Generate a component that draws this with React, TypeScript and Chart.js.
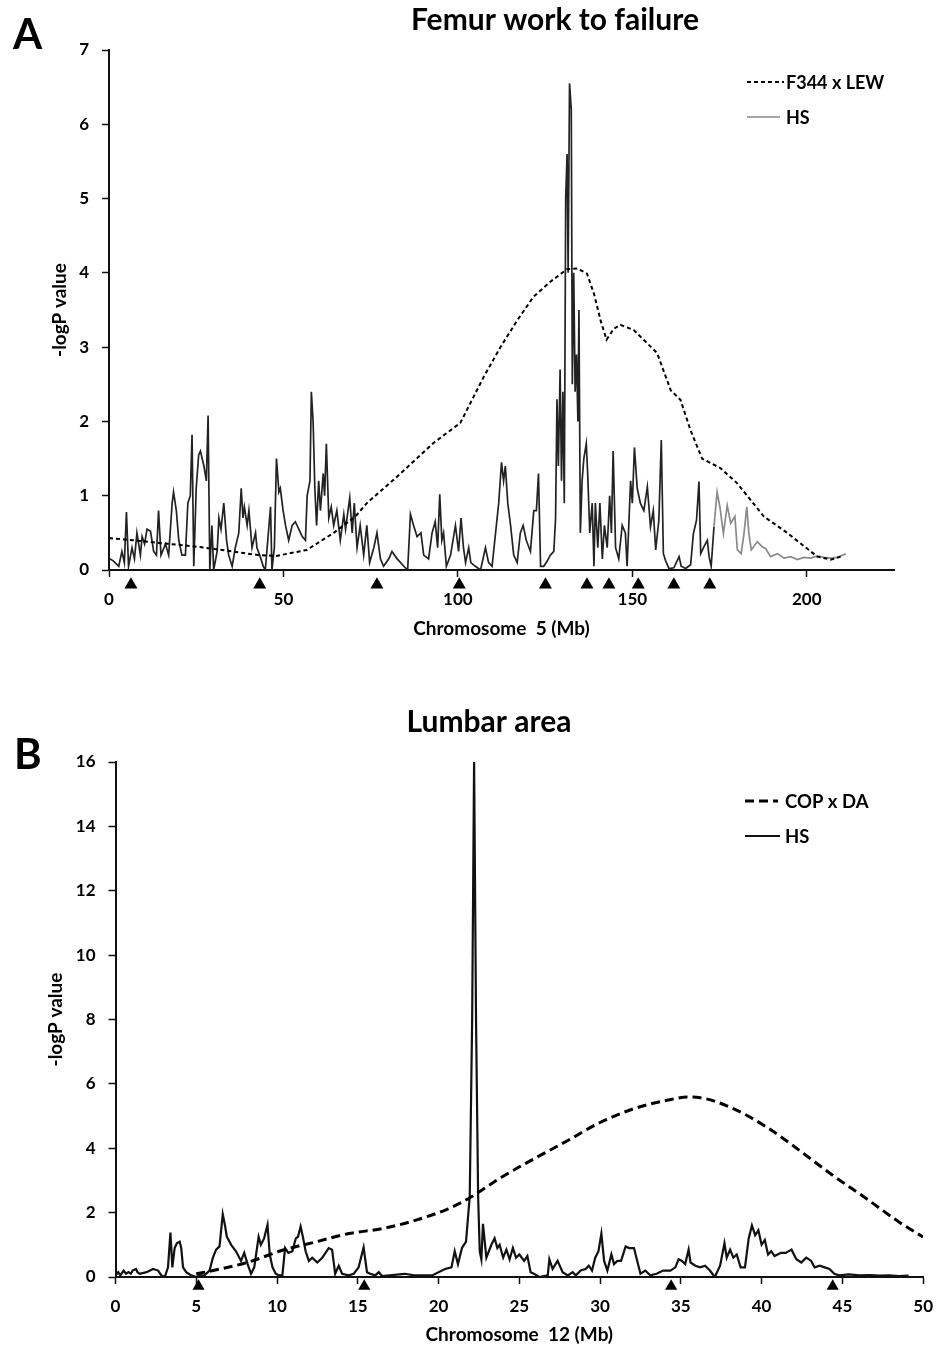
import React, { useEffect, useRef } from 'react';
import { Chart, registerables } from 'chart.js';

Chart.register(...registerables);

const FONT = "Lato, 'Open Sans', sans-serif";

// ---------- Panel A: Femur work to failure (Chromosome 5) ----------
const femurHsMb = [
  0.0, 1.3, 2.8, 3.7, 4.4, 5.0, 5.6, 6.6, 7.3, 8.0, 9.0, 9.5, 10.2, 10.9, 11.9, 12.8, 13.6, 14.2, 14.9, 16.2,
  17.1, 18.1, 18.5, 19.3, 20.0, 20.9, 21.9, 22.6, 23.3, 23.8, 24.3, 25.0, 25.7, 26.2, 27.2, 27.9, 28.4, 28.9, 29.5, 30.0,
  31.0, 31.5, 32.1, 32.9, 33.7, 34.3, 35.3, 36.2, 37.2, 37.9, 38.4, 38.8, 39.6, 40.1, 41.0, 42.0, 42.4, 43.2, 44.2, 44.8,
  46.3, 46.7, 47.4, 48.0, 48.7, 49.1, 49.9, 50.6, 51.5, 52.5, 53.4, 54.4, 55.4, 56.3, 56.8, 57.6, 58.0, 58.5, 59.0, 59.5,
  60.1, 60.6, 61.4, 61.8, 62.3, 63.0, 63.7, 64.4, 65.3, 66.3, 67.3, 67.8, 69.0, 69.7, 70.3, 71.1, 72.0, 73.0, 73.9, 74.7,
  75.9, 76.8, 77.8, 78.7, 80.2, 81.1, 82.6, 84.5, 85.6, 86.4, 87.3, 88.3, 89.4, 90.2, 91.6, 92.6, 93.5, 94.2, 94.8, 95.4,
  95.9, 96.7, 97.9, 99.3, 100.2, 100.9, 101.6, 102.2, 103.1, 103.7, 105.0, 106.5, 107.9, 108.8, 109.8, 110.8, 111.7, 112.5, 113.1, 113.6,
  114.3, 115.1, 116.0, 117.0, 117.9, 118.7, 119.6, 120.8, 121.75, 122.5, 123.1, 123.7, 124.6, 125.6, 126.5, 127.5, 128.0, 128.4, 128.8, 129.3,
  129.7, 130.1, 130.5, 130.9, 131.3, 131.6, 132.0, 132.5, 132.8, 133.2, 133.6, 134.0, 134.4, 134.7, 135.1, 135.6, 136.1, 136.8, 137.2, 137.8,
  138.5, 139.0, 139.4, 140.1, 140.7, 141.4, 142.0, 142.8, 143.5, 144.0, 144.5, 145.2, 146.1, 147.1, 148.0, 148.5, 149.5, 150.0, 150.6, 151.4,
  152.3, 153.3, 154.3, 155.2, 156.0, 156.7, 157.6, 158.3, 158.9, 159.5, 160.5, 161.9, 163.4, 164.0, 165.3, 166.7, 167.5, 168.4, 169.1, 169.6,
  170.5, 171.5, 172.0, 172.6, 173.4, 174.3, 175.1, 176.1, 177.2, 178.2, 179.4, 180.1, 181.2, 182.0, 182.8, 183.4, 184.1, 185.8, 187.3, 188.2,
  189.6, 191.6, 193.5, 195.4, 197.3, 199.2, 201.1, 203.0, 204.9, 206.9, 208.8, 211.2,
];
const femurHsLogP = [
  0.16, 0.12, 0.05, 0.25, 0.1, 0.78, 0.05, 0.3, 0.15, 0.5, 0.2, 0.45, 0.35, 0.55, 0.52, 0.25, 0.2, 0.8, 0.2, 0.35,
  0.2, 0.9, 1.05, 0.8, 0.4, 0.2, 0.2, 0.9, 1.0, 1.82, 0.05, 1.1, 1.55, 1.6, 1.4, 1.2, 2.08, 0.0, 0.6, 0.0,
  0.25, 0.7, 0.55, 0.9, 0.4, 0.2, 0.05, 0.3, 0.5, 1.1, 0.7, 0.85, 0.6, 0.8, 0.3, 0.5, 0.3, 0.2, 0.05, 0.0,
  0.85, 0.0, 0.3, 1.5, 1.05, 1.1, 0.8, 0.6, 0.4, 0.6, 0.65, 0.55, 0.45, 0.4, 1.0, 1.2, 2.4, 2.0, 1.1, 0.6,
  1.2, 0.8, 1.3, 1.0, 1.7, 0.7, 0.85, 0.6, 0.8, 0.4, 0.75, 0.55, 0.97, 0.5, 0.9, 0.3, 0.6, 0.2, 0.6, 0.1,
  0.3, 0.5, 0.15, 0.05, 0.15, 0.25, 0.15, 0.05, 0.0, 0.75, 0.6, 0.45, 0.5, 0.2, 0.15, 0.5, 0.65, 0.3, 1.02, 0.4,
  0.5, 0.05, 0.2, 0.6, 0.25, 0.7, 0.3, 0.1, 0.3, 0.1, 0.05, 0.0, 0.3, 0.1, 0.05, 0.5, 0.9, 1.45, 1.2, 1.4,
  0.9, 0.6, 0.2, 0.1, 0.5, 0.6, 0.4, 0.25, 0.8, 0.8, 1.3, 0.05, 0.05, 0.12, 0.2, 0.25, 0.7, 2.3, 1.4, 2.7,
  1.2, 2.4, 0.9, 5.0, 5.6, 4.0, 6.55, 6.2, 2.5, 4.0, 2.4, 2.9, 2.0, 3.5, 0.5, 1.2, 1.5, 1.7, 1.3, 0.5,
  0.9, 0.05, 0.9, 0.3, 0.9, 0.15, 0.6, 0.3, 1.0, 0.5, 1.6, 0.3, 0.15, 0.6, 0.5, 0.05, 1.2, 0.9, 1.65, 1.1,
  0.9, 0.8, 1.12, 0.58, 0.8, 0.27, 0.67, 1.75, 0.22, 0.13, 0.02, 0.03, 0.18, 0.05, 0.02, 0.07, 0.49, 0.67, 1.19, 0.22,
  0.31, 0.4, 0.18, 0.05, 0.58, 1.05, 0.85, 0.49, 0.87, 0.63, 0.72, 0.27, 0.22, 0.49, 0.85, 0.49, 0.27, 0.38, 0.31, 0.29,
  0.18, 0.22, 0.16, 0.18, 0.14, 0.17, 0.16, 0.19, 0.17, 0.16, 0.17, 0.22,
];
const femurF344Mb = [
  0, 7, 26, 43, 48, 56.7, 64.4, 70.6, 73.9, 83.6, 93, 100.7, 107.4, 112.2, 117, 121.7, 126.5, 131.3, 134.2, 137,
  139, 140.9, 142.6, 144.7, 146.6, 150.4, 154.3, 157.1, 161, 163.8, 166.7, 170, 175.3, 180, 187.7, 194.4, 203, 206.9, 209.7,
];
const femurF344LogP = [
  0.43, 0.4, 0.31, 0.2, 0.19, 0.27, 0.5, 0.72, 0.9, 1.3, 1.71, 1.98, 2.6, 3.0, 3.36, 3.68, 3.88, 4.05, 4.06, 3.99,
  3.72, 3.36, 3.1, 3.25, 3.3, 3.23, 3.05, 2.92, 2.42, 2.29, 1.88, 1.5, 1.37, 1.17, 0.72, 0.5, 0.18, 0.14, 0.18,
];
const femurMarkerMb = [6.3, 43.2, 76.8, 100.4, 125.1, 137.0, 143.3, 151.7, 161.9, 172.2];

// ---------- Panel B: Lumbar area (Chromosome 12) ----------
const lumbarHsMb = [
  0.0, 0.17, 0.3, 0.5, 0.65, 0.8, 0.95, 1.06, 1.27, 1.36, 1.5, 1.92, 2.33, 2.64, 2.84, 3.05, 3.25, 3.4, 3.52, 3.66,
  3.8, 3.97, 4.07, 4.18, 4.38, 4.69, 5.0, 5.2, 5.5, 5.82, 6.03, 6.23, 6.44, 6.64, 6.78, 6.89, 7.16, 7.46, 7.77, 7.97,
  8.18, 8.39, 8.59, 8.86, 9.0, 9.2, 9.41, 9.55, 9.72, 9.92, 10.13, 10.33, 10.5, 10.7, 10.95, 11.16, 11.3, 11.46, 11.6, 11.77,
  11.97, 12.18, 12.49, 12.8, 13.0, 13.2, 13.41, 13.6, 13.82, 14.03, 14.44, 14.75, 15.05, 15.36, 15.57, 15.77, 16.08, 16.3, 16.5, 17.9,
  18.5, 19.6, 20.4, 20.8, 21.0, 21.2, 21.45, 21.7, 21.93, 22.08, 22.2, 22.32, 22.45, 22.55, 22.65, 22.75, 22.96, 23.27, 23.47, 23.64,
  23.78, 24.0, 24.2, 24.4, 24.6, 24.8, 25.0, 25.3, 25.5, 25.7, 25.9, 26.24, 26.76, 26.86, 27.06, 27.37, 27.68, 28.0, 28.3, 28.5,
  28.8, 29.1, 29.3, 29.5, 29.7, 29.9, 30.08, 30.25, 30.45, 30.7, 30.86, 31.07, 31.3, 31.58, 31.8, 32.1, 32.3, 32.5, 32.8, 33.1,
  33.5, 33.9, 34.35, 34.66, 34.86, 35.07, 35.27, 35.48, 35.6, 35.9, 36.2, 36.5, 36.8, 37.1, 37.43, 37.7, 37.84, 38.05, 38.25, 38.46,
  38.7, 38.97, 39.2, 39.4, 39.6, 39.8, 40.0, 40.2, 40.4, 40.6, 40.8, 41.2, 41.5, 41.85, 42.15, 42.46, 42.76, 43.07, 43.28, 43.6,
  43.9, 44.2, 44.5, 44.8, 45.4, 46.05, 46.7, 47.3, 47.9, 48.5, 49.1,
];
const lumbarHsLogP = [
  0.05, 0.15, 0.05, 0.2, 0.1, 0.15, 0.1, 0.2, 0.25, 0.15, 0.1, 0.15, 0.25, 0.2, 0.05, 0.0, 0.3, 1.38, 0.3, 0.9,
  1.05, 1.1, 0.9, 0.3, 0.15, 0.05, 0.0, 0.05, 0.05, 0.2, 0.6, 0.85, 0.95, 1.95, 1.6, 1.25, 1.0, 0.8, 0.5, 0.75,
  0.4, 0.1, 0.3, 1.25, 1.0, 1.2, 1.62, 0.7, 0.3, 0.1, 0.05, 0.05, 0.9, 0.75, 0.8, 1.2, 1.25, 1.57, 1.25, 0.8,
  0.5, 0.6, 0.45, 0.6, 0.75, 0.9, 0.85, 0.1, 0.35, 0.1, 0.05, 0.1, 0.3, 0.92, 0.15, 0.1, 0.05, 0.15, 0.03, 0.1,
  0.05, 0.05, 0.25, 0.3, 0.8, 0.4, 0.9, 1.1, 2.5, 8.0, 16.0, 8.0, 2.5, 0.8, 0.55, 1.65, 0.6, 1.0, 1.2, 0.9,
  1.0, 0.6, 0.85, 0.55, 0.9, 0.6, 0.7, 0.5, 0.65, 0.15, 0.1, 0.0, 0.05, 0.55, 0.25, 0.5, 0.15, 0.05, 0.15, 0.05,
  0.2, 0.25, 0.35, 0.2, 0.6, 0.8, 1.35, 0.5, 0.2, 0.7, 0.4, 0.5, 0.5, 0.95, 0.9, 0.9, 0.5, 0.1, 0.2, 0.05,
  0.1, 0.2, 0.2, 0.3, 0.55, 0.5, 0.4, 0.85, 0.45, 0.35, 0.3, 0.35, 0.2, 0.0, 0.35, 1.05, 0.6, 0.85, 0.6, 0.7,
  0.3, 0.3, 1.2, 1.6, 1.3, 1.45, 1.0, 1.15, 0.7, 0.8, 0.65, 0.75, 0.75, 0.85, 0.55, 0.45, 0.6, 0.5, 0.3, 0.35,
  0.3, 0.25, 0.1, 0.05, 0.08, 0.05, 0.06, 0.04, 0.05, 0.03, 0.04,
];
const lumbarCopMb = [
  5.0, 6.03, 8.28, 10.33, 12.4, 14.44, 16.5, 18.55, 20.6, 21.83, 23.9, 25.9, 28.0, 30.0, 32.1, 34.15, 35.4, 36.2, 38.25, 40.3,
  42.35, 44.4, 46.5, 48.5, 50.0,
];
const lumbarCopLogP = [
  0.1, 0.2, 0.47, 0.83, 1.09, 1.35, 1.5, 1.76, 2.12, 2.43, 3.1, 3.67, 4.24, 4.8, 5.23, 5.49, 5.59, 5.57, 5.23, 4.66,
  3.93, 3.16, 2.43, 1.71, 1.24,
];
const lumbarMarkerMb = [5.14, 15.4, 34.4, 44.4];

const MARKER_LOGP_A = -0.2;
const MARKER_LOGP_B = -0.29;

const pts = (xs: number[], ys: number[]) => xs.map((x, i) => ({ x, y: ys[i] }));

const panelDecor = {
  id: 'panelDecor',
  afterDraw(chart: any, _args: any, o: any) {
    const { ctx } = chart;
    ctx.save();
    ctx.fillStyle = '#000';
    ctx.textAlign = 'left';
    ctx.textBaseline = 'alphabetic';
    ctx.font = `bold ${o.letterSize}px ${FONT}`;
    ctx.fillText(o.letter, o.letterX, o.letterY);
    ctx.textAlign = 'center';
    ctx.font = `bold ${o.titleSize}px ${FONT}`;
    ctx.fillText(o.title, o.titleX, o.titleY);
    ctx.textAlign = 'left';
    ctx.textBaseline = 'middle';
    ctx.font = `bold ${o.legendSize}px ${FONT}`;
    o.legend.forEach((item: any, i: number) => {
      const ds = chart.data.datasets[item.index];
      const y = o.legendY + i * o.legendGap;
      ctx.beginPath();
      ctx.setLineDash(ds.borderDash || []);
      ctx.strokeStyle = item.color || ds.borderColor;
      ctx.lineWidth = ds.borderWidth;
      ctx.moveTo(o.legendX, y);
      ctx.lineTo(o.legendX + item.sample, y);
      ctx.stroke();
      ctx.setLineDash([]);
      ctx.fillText(ds.label, o.legendTextX, y + 1);
    });
    ctx.restore();
  },
};

const tickFont = { family: FONT, size: 17, weight: 'bold' as const };
const axisTitleFont = { family: FONT, size: 19, weight: 'bold' as const };

function axisCommon() {
  return {
    grid: { display: true, drawOnChartArea: false, drawTicks: true, tickLength: 7, tickWidth: 1.5, tickColor: '#111' },
    border: { display: true, color: '#111', width: 2 },
  };
}

function makeConfig(p: any) {
  return {
    type: 'line',
    data: {
      datasets: [
        {
          label: p.dashLabel,
          data: pts(p.dashX, p.dashY),
          borderColor: '#000',
          borderWidth: p.dashWidth,
          borderDash: p.dash,
          pointRadius: 0,
          tension: 0,
          cubicInterpolationMode: p.monotone ? 'monotone' : 'default',
          fill: false,
          order: 0,
        },
        {
          label: 'HS',
          data: pts(p.hsX, p.hsY),
          borderColor: p.hsColor,
          borderWidth: p.hsWidth,
          pointRadius: 0,
          tension: 0,
          fill: false,
          order: 1,
          segment: p.hsSegment,
        },
        {
          label: 'markers',
          data: p.markerX.map((x: number) => ({ x, y: p.markerY })),
          showLine: false,
          pointStyle: 'triangle',
          pointRadius: p.markerR,
          // a larger hover radius widens the in-area margin so the markers below the axis are drawn
          pointHoverRadius: 17,
          pointBackgroundColor: '#000',
          pointBorderColor: '#000',
          pointBorderWidth: 0,
          clip: false,
          order: 2,
        },
      ],
    },
    options: {
      animation: false,
      responsive: false,
      events: [],
      layout: { padding: p.padding },
      plugins: {
        legend: { display: false },
        tooltip: { enabled: false },
        title: { display: false },
        panelDecor: p.decor,
      },
      scales: {
        x: {
          type: 'linear',
          min: 0,
          max: p.xMax,
          ...axisCommon(),
          ticks: { stepSize: p.xStep, includeBounds: false, font: tickFont, color: '#000', padding: p.xTickPad, maxRotation: 0, autoSkip: false },
          title: { display: true, text: p.xTitle, font: axisTitleFont, color: '#000', padding: { top: 0, bottom: p.xTitlePad } },
          afterFit: (s: any) => { s.height = p.xAxisHeight; },
        },
        y: {
          type: 'linear',
          min: 0,
          max: p.yMax,
          ...axisCommon(),
          ticks: { stepSize: p.yStep, font: tickFont, color: '#000', padding: 13, autoSkip: false },
          title: { display: true, text: '-logP value', font: axisTitleFont, color: '#000', padding: { top: p.yTitlePad, bottom: 0 } },
          afterFit: (s: any) => { s.width = p.yAxisWidth; },
        },
      },
    },
    plugins: [panelDecor],
  };
}

const panelA = {
  dashLabel: 'F344 x LEW',
  dashX: femurF344Mb,
  dashY: femurF344LogP,
  dashWidth: 2,
  dash: [4, 3],
  monotone: false,
  hsX: femurHsMb,
  hsY: femurHsLogP,
  hsColor: '#8a8a8a',
  hsWidth: 1.7,
  hsSegment: { borderColor: (c: any) => (c.p0.parsed.x < 173 ? '#222' : '#8a8a8a') },
  markerX: femurMarkerMb,
  markerY: MARKER_LOGP_A,
  markerR: 7.5,
  xMax: 225,
  xStep: 50,
  yMax: 7,
  yStep: 1,
  xTitle: 'Chromosome  5 (Mb)',
  padding: { top: 50, right: 51, bottom: 0, left: 0 },
  xAxisHeight: 80,
  yAxisWidth: 109,
  xTickPad: 12,
  xTitlePad: 9.6,
  yTitlePad: 48.6,
  decor: {
    letter: 'A', letterX: 13, letterY: 49, letterSize: 42,
    title: 'Femur work to failure', titleX: 555, titleY: 30, titleSize: 30,
    legendX: 747, legendTextX: 786, legendY: 82, legendGap: 35, legendSize: 18,
    legend: [{ index: 0, sample: 37 }, { index: 1, sample: 33, color: '#8a8a8a' }],
  },
};

const panelB = {
  dashLabel: 'COP x DA',
  dashX: lumbarCopMb,
  dashY: lumbarCopLogP,
  dashWidth: 3,
  dash: [9, 5],
  monotone: true,
  hsX: lumbarHsMb,
  hsY: lumbarHsLogP,
  hsColor: '#111',
  hsWidth: 2.2,
  hsSegment: undefined,
  markerX: lumbarMarkerMb,
  markerY: MARKER_LOGP_B,
  markerR: 7,
  xMax: 50,
  xStep: 5,
  yMax: 16,
  yStep: 2,
  xTitle: 'Chromosome  12 (Mb)',
  padding: { top: 82, right: 18, bottom: 0, left: 0 },
  xAxisHeight: 72,
  yAxisWidth: 115.5,
  xTickPad: 12,
  xTitlePad: 2.6,
  yTitlePad: 44.6,
  decor: {
    letter: 'B', letterX: 14, letterY: 89, letterSize: 42,
    title: 'Lumbar area', titleX: 489, titleY: 52, titleSize: 30,
    legendX: 745, legendTextX: 785, legendY: 121, legendGap: 35, legendSize: 18.5,
    legend: [{ index: 0, sample: 33 }, { index: 1, sample: 35 }],
  },
};

function Panel({ cfg, top, height }: { cfg: any; top: number; height: number }) {
  const ref = useRef<HTMLCanvasElement | null>(null);
  useEffect(() => {
    if (!ref.current) return;
    const chart = new Chart(ref.current, makeConfig(cfg) as any);
    return () => chart.destroy();
  }, [cfg]);
  return (
    <canvas
      ref={ref}
      width={945}
      height={height}
      style={{ position: 'absolute', left: 0, top, width: 945, height }}
    />
  );
}

export default function App() {
  return (
    <div style={{ position: 'absolute', left: 0, top: 0, width: 945, height: 1349, background: '#fff' }}>
      <Panel cfg={panelA} top={0} height={650} />
      <Panel cfg={panelB} top={680} height={669} />
    </div>
  );
}
